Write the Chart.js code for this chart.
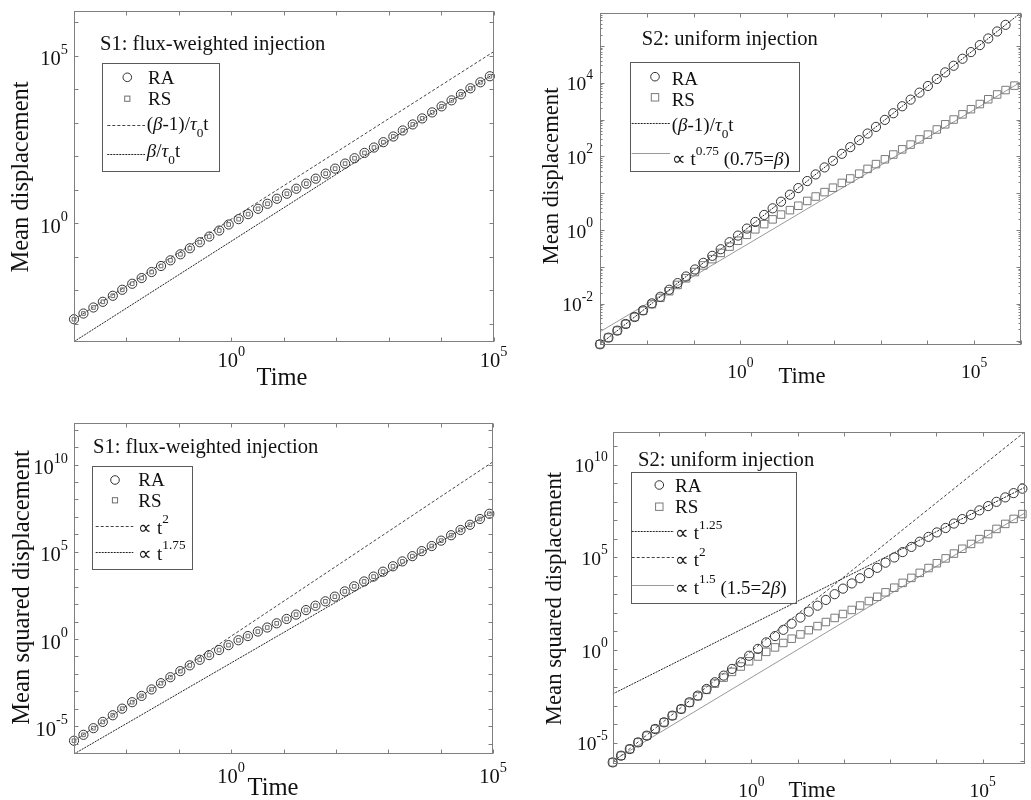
<!DOCTYPE html>
<html>
<head>
<meta charset="utf-8">
<title>Mean displacement vs time</title>
<script src="https://cdn.jsdelivr.net/npm/chart.js"></script>
<style>
  html, body { margin: 0; padding: 0; background: #fff; overflow: hidden; }
  #wrap { position: relative; width: 1031px; height: 800px; }
  #wrap canvas { position: absolute; left: 0; top: 0; }
</style>
</head>
<body>
<div id="wrap">
  <canvas id="p1" width="1031" height="800"></canvas>
  <canvas id="p2" width="1031" height="800"></canvas>
  <canvas id="p3" width="1031" height="800"></canvas>
  <canvas id="p4" width="1031" height="800"></canvas>
</div>
<script>
// log10(time) of the sampled points, shared by all panels
const logTime = [-3.00, -2.82, -2.63, -2.45, -2.26, -2.08, -1.89, -1.71, -1.52, -1.34,
  -1.16, -0.97, -0.79, -0.60, -0.42, -0.23, -0.05, 0.14, 0.32, 0.51,
  0.69, 0.87, 1.06, 1.24, 1.43, 1.61, 1.80, 1.98, 2.17, 2.35,
  2.54, 2.72, 2.90, 3.09, 3.27, 3.46, 3.64, 3.83, 4.01, 4.20,
  4.38, 4.56, 4.75, 4.93, 5.12, 5.30, 5.49, 5.67, 5.86];

// S1 mean displacement (log10)
const p1RaLogY = [-2.87, -2.70, -2.52, -2.35, -2.17, -1.99, -1.81, -1.64, -1.46, -1.28,
  -1.11, -0.93, -0.75, -0.57, -0.40, -0.22, -0.04, 0.12, 0.27, 0.43,
  0.58, 0.73, 0.88, 1.03, 1.18, 1.33, 1.48, 1.63, 1.78, 1.94,
  2.10, 2.26, 2.42, 2.59, 2.77, 2.95, 3.13, 3.31, 3.49, 3.67,
  3.85, 4.03, 4.21, 4.39];
const p1RsLogY = [-2.87, -2.70, -2.52, -2.35, -2.17, -1.99, -1.81, -1.64, -1.46, -1.28,
  -1.11, -0.93, -0.75, -0.57, -0.40, -0.22, -0.04, 0.12, 0.27, 0.43,
  0.58, 0.73, 0.88, 1.03, 1.18, 1.33, 1.48, 1.63, 1.78, 1.94,
  2.10, 2.26, 2.42, 2.59, 2.77, 2.95, 3.13, 3.31, 3.49, 3.67,
  3.85, 4.03, 4.21, 4.39];
const p1GuideLogT = [-3, 5];
const p1DashLogY = [-2.88, 5.12];   // (beta-1)/tau0 t
const p1DotLogY = [-3.54, 4.46];    // beta/tau0 t

// S2 mean displacement (log10)
const p2RaLogY = [-3.10, -2.92, -2.73, -2.55, -2.36, -2.18, -1.99, -1.81, -1.62, -1.44,
  -1.26, -1.07, -0.89, -0.70, -0.52, -0.33, -0.15, 0.04, 0.22, 0.41,
  0.59, 0.77, 0.96, 1.14, 1.33, 1.51, 1.70, 1.88, 2.07, 2.25,
  2.44, 2.62, 2.80, 2.99, 3.17, 3.36, 3.54, 3.73, 3.91, 4.10,
  4.28, 4.46, 4.65, 4.83, 5.02, 5.20, 5.39, 5.57];
const p2RsLogY = [-3.10, -2.92, -2.73, -2.55, -2.36, -2.19, -2.01, -1.84, -1.66, -1.49,
  -1.31, -1.14, -0.96, -0.79, -0.62, -0.45, -0.29, -0.13, 0.02, 0.16,
  0.29, 0.42, 0.54, 0.66, 0.79, 0.91, 1.03, 1.15, 1.28, 1.40,
  1.53, 1.66, 1.79, 1.92, 2.05, 2.19, 2.32, 2.46, 2.59, 2.73,
  2.87, 3.00, 3.14, 3.28, 3.42, 3.55, 3.68, 3.80, 3.92];
const p2GuideLogT = [-3, 6];
const p2DotLogY = [-3.10, 5.90];    // (beta-1)/tau0 t
const p2GrayLogY = [-2.76, 4.02];   // t^0.75

// S1 mean squared displacement (log10)
const p3RaLogY = [-5.83, -5.49, -5.11, -4.75, -4.37, -3.99, -3.62, -3.26, -2.89, -2.53,
  -2.19, -1.84, -1.51, -1.19, -0.92, -0.63, -0.35, -0.07, 0.17, 0.43,
  0.66, 0.90, 1.15, 1.40, 1.66, 1.91, 2.16, 2.43, 2.73, 3.02,
  3.30, 3.58, 3.86, 4.17, 4.45, 4.75, 5.04, 5.33, 5.64, 5.95,
  6.25, 6.55, 6.88, 7.18];
const p3RsLogY = [-5.83, -5.49, -5.11, -4.75, -4.37, -3.99, -3.62, -3.26, -2.89, -2.53,
  -2.19, -1.84, -1.51, -1.19, -0.92, -0.63, -0.35, -0.07, 0.17, 0.43,
  0.66, 0.90, 1.15, 1.40, 1.66, 1.91, 2.16, 2.43, 2.73, 3.02,
  3.30, 3.58, 3.86, 4.17, 4.45, 4.75, 5.04, 5.33, 5.64, 5.95,
  6.25, 6.55, 6.88, 7.18];
const p3GuideLogT = [-3, 5];
const p3DashLogY = [-5.84, 10.16];  // t^2
const p3DotLogY = [-6.59, 7.33];    // t^1.75

// S2 mean squared displacement (log10)
const p4RaLogY = [-6.06, -5.70, -5.34, -4.98, -4.62, -4.26, -3.90, -3.54, -3.18, -2.82,
  -2.46, -2.10, -1.74, -1.38, -1.02, -0.66, -0.31, 0.06, 0.41, 0.75,
  1.09, 1.42, 1.75, 2.07, 2.39, 2.70, 3.01, 3.31, 3.59, 3.87,
  4.15, 4.43, 4.71, 4.99, 5.28, 5.56, 5.84, 6.10, 6.34, 6.58,
  6.82, 7.06, 7.29, 7.53, 7.76, 7.99, 8.23, 8.46, 8.70];
const p4RsLogY = [-6.06, -5.70, -5.34, -4.98, -4.62, -4.26, -3.90, -3.54, -3.19, -2.84,
  -2.49, -2.15, -1.81, -1.49, -1.18, -0.89, -0.61, -0.35, -0.10, 0.14,
  0.38, 0.61, 0.84, 1.07, 1.29, 1.51, 1.73, 1.94, 2.16, 2.40,
  2.64, 2.87, 3.11, 3.36, 3.62, 3.89, 4.16, 4.42, 4.68, 4.94,
  5.20, 5.46, 5.72, 5.98, 6.25, 6.53, 6.80, 7.07, 7.33];
const p4GuideLogT = [-3, 5.91];
const p4DotLogY = [-2.37, 8.77];    // t^1.25
const p4DashLogY = [-6.06, 11.76];  // t^2
const p4GrayLogY = [-5.98, 7.38];   // t^1.5

// tick exponents and labelled exponents
const p1XTicks = [-3, -2, -1, 0, 1, 2, 3, 4, 5];
const p1YTicks = [-3, -2, -1, 0, 1, 2, 3, 4, 5, 6];
const p2XTicks = [-3, -2, -1, 0, 1, 2, 3, 4, 5, 6];
const p2YTicks = [-3, -2, -1, 0, 1, 2, 3, 4, 5];
const p3XTicks = [-3, -2, -1, 0, 1, 2, 3, 4, 5];
const p3YTicks = [-6, -5, -4, -3, -2, -1, 0, 1, 2, 3, 4, 5, 6, 7, 8, 9, 10, 11, 12];
const p4XTicks = [-3, -2, -1, 0, 1, 2, 3, 4, 5];
const p4YTicks = [-6, -5, -4, -3, -2, -1, 0, 1, 2, 3, 4, 5, 6, 7, 8, 9, 10, 11];
const xLabelExp = [0, 5];
const p1YLabels = [0, 5];
const p2YLabels = [-2, 0, 2, 4];
const msdYLabels = [-5, 0, 5, 10];

const SERIF = '"Liberation Serif", "Times New Roman", serif';
const AXIS_COLOR = '#7f7f7f';
const TEXT_COLOR = '#111';

const RA_STYLE = { pointStyle: 'circle', pointRadius: 4.6, pointBorderColor: '#333' };
const RS_SMALL = { pointStyle: 'rect', pointRadius: 2.6, pointBorderColor: '#6e6e6e' };
const RS_BIG = { pointStyle: 'rect', pointRadius: 5.3, pointBorderColor: '#7a7a7a' };
const DASHED = { color: '#444', dash: [3, 2] };
const DOTTED = { color: '#222', dash: [2, 1] };
const GRAYLINE = { color: '#999', dash: [] };

const betaTau = [['(', ''], ['\u03b2', 'i'], ['-1)/', ''], ['\u03c4', 'i'], ['0', 'sub'], ['t', '']];

function pts(lx, ly) {
  return ly.map((v, i) => ({ x: Math.pow(10, lx[i]), y: Math.pow(10, v) }));
}

function markers(label, ly, style) {
  return Object.assign({
    label: label, data: pts(logTime, ly), showLine: false, clip: false,
    pointBackgroundColor: 'rgba(0,0,0,0)', pointBorderWidth: 1, pointHoverRadius: 0
  }, style);
}

function guide(label, lx, ly, style) {
  return {
    label: label, data: pts(lx, ly), showLine: true, pointRadius: 0, pointHoverRadius: 0,
    borderColor: style.color, borderDash: style.dash, borderWidth: 1, fill: false, tension: 0
  };
}

// draws a string made of parts: '' normal, 'i' italic, 'sup', 'sub'
function richText(ctx, x, y, parts, size, align) {
  const fonts = parts.map(p => {
    const small = p[1] === 'sup' || p[1] === 'sub';
    return (p[1] === 'i' ? 'italic ' : '') + (small ? size * 0.7 : size).toFixed(1) + 'px ' + SERIF;
  });
  let total = 0;
  const widths = parts.map((p, i) => {
    ctx.font = fonts[i];
    const w = ctx.measureText(p[0]).width;
    total += w;
    return w;
  });
  let cx = align === 'right' ? x - total : align === 'center' ? x - total / 2 : x;
  ctx.textAlign = 'left';
  ctx.textBaseline = 'alphabetic';
  parts.forEach((p, i) => {
    ctx.font = fonts[i];
    const dy = p[1] === 'sup' ? -size * 0.55 : p[1] === 'sub' ? size * 0.38 : 0;
    ctx.fillText(p[0], cx, y + dy);
    cx += widths[i];
  });
}

function drawLegend(ctx, lg) {
  const [x0, y0, x1, y1] = lg.box;
  ctx.fillStyle = '#fff';
  ctx.fillRect(x0, y0, x1 - x0, y1 - y0);
  ctx.setLineDash([]);
  ctx.lineWidth = 1;
  ctx.strokeStyle = '#5a5a5a';
  ctx.strokeRect(Math.round(x0) + 0.5, Math.round(y0) + 0.5, Math.round(x1 - x0), Math.round(y1 - y0));
  lg.items.forEach(it => {
    ctx.setLineDash([]);
    if (it.kind === 'circle') {
      ctx.strokeStyle = it.color;
      ctx.beginPath();
      ctx.arc(it.mx, it.my, it.r, 0, Math.PI * 2);
      ctx.stroke();
    } else if (it.kind === 'rect') {
      ctx.strokeStyle = it.color;
      ctx.strokeRect(it.mx - it.r, it.my - it.r, it.r * 2, it.r * 2);
    } else {
      const y = Math.round(it.my) + 0.5;
      ctx.strokeStyle = it.style.color;
      ctx.setLineDash(it.style.dash);
      ctx.beginPath();
      ctx.moveTo(it.lx[0], y);
      ctx.lineTo(it.lx[1], y);
      ctx.stroke();
      ctx.setLineDash([]);
    }
    ctx.fillStyle = TEXT_COLOR;
    richText(ctx, it.tx, it.ty, it.parts, 19, 'left');
  });
}

function decor(cfg) {
  return {
    id: 'decor_' + cfg.canvas,
    afterDraw(chart) {
      const ctx = chart.ctx, a = chart.chartArea;
      const xs = chart.scales.x, ys = chart.scales.y;
      const L = Math.round(a.left) + 0.5, R = Math.round(a.right) - 0.5;
      const T = Math.round(a.top) + 0.5, B = Math.round(a.bottom) - 0.5;
      ctx.save();
      ctx.lineWidth = 1;
      ctx.setLineDash([]);
      ctx.strokeStyle = AXIS_COLOR;
      ctx.strokeRect(L, T, R - L, B - T);
      ctx.beginPath();
      cfg.xTicks.forEach(k => {
        const x = Math.round(xs.getPixelForValue(Math.pow(10, k))) + 0.5;
        ctx.moveTo(x, B); ctx.lineTo(x, B - 4);
        ctx.moveTo(x, T); ctx.lineTo(x, T + 4);
      });
      cfg.yTicks.forEach(k => {
        const y = Math.round(ys.getPixelForValue(Math.pow(10, k))) + 0.5;
        ctx.moveTo(L, y); ctx.lineTo(L + 4, y);
        ctx.moveTo(R, y); ctx.lineTo(R - 4, y);
      });
      if (cfg.yMinor) {
        for (let k = Math.floor(cfg.yLim[0]); k < cfg.yLim[1]; k++) {
          for (let m = 2; m < 10; m++) {
            const v = m * Math.pow(10, k), lv = Math.log10(v);
            if (lv <= cfg.yLim[0] || lv >= cfg.yLim[1]) continue;
            const y = Math.round(ys.getPixelForValue(v)) + 0.5;
            ctx.moveTo(L, y); ctx.lineTo(L + 2, y);
            ctx.moveTo(R, y); ctx.lineTo(R - 2, y);
          }
        }
      }
      ctx.stroke();

      ctx.fillStyle = TEXT_COLOR;
      cfg.xLabels.forEach(k => {
        richText(ctx, xs.getPixelForValue(Math.pow(10, k)), cfg.xLabelY,
          [['10', ''], [String(k), 'sup']], cfg.tickSize, 'center');
      });
      cfg.yLabels.forEach(k => {
        richText(ctx, cfg.yLabelRight, ys.getPixelForValue(Math.pow(10, k)) + cfg.yLabelDy,
          [['10', ''], [String(k), 'sup']], cfg.tickSize, 'right');
      });

      // axis titles
      ctx.font = cfg.titleSize + 'px ' + SERIF;
      ctx.textAlign = 'center';
      ctx.textBaseline = 'alphabetic';
      ctx.fillText('Time', cfg.timeAt[0], cfg.timeAt[1]);
      ctx.save();
      ctx.translate(cfg.yTitleAt[0], cfg.yTitleAt[1]);
      ctx.rotate(-Math.PI / 2);
      ctx.textBaseline = 'middle';
      ctx.fillText(cfg.yTitle, 0, 0);
      ctx.restore();

      // panel caption
      ctx.font = '20.6px ' + SERIF;
      ctx.textAlign = 'left';
      ctx.fillText(cfg.caption, cfg.captionAt[0], cfg.captionAt[1]);

      drawLegend(ctx, cfg.legend);
      ctx.restore();
    }
  };
}

const panels = [
  {
    canvas: 'p1', area: { left: 74, top: 11, right: 493.5, bottom: 342.3 },
    xLim: [-3, 5], yLim: [-3.56, 6.34],
    datasets: [
      markers('RA', p1RaLogY, RA_STYLE),
      markers('RS', p1RsLogY, RS_SMALL),
      guide('(\u03b2-1)/\u03c40t', p1GuideLogT, p1DashLogY, DASHED),
      guide('\u03b2/\u03c40t', p1GuideLogT, p1DotLogY, DOTTED)
    ],
    xTicks: p1XTicks, yTicks: p1YTicks, xLabels: xLabelExp, yLabels: p1YLabels,
    tickSize: 20.5, xLabelY: 367, yLabelRight: 68, yLabelDy: 9.5,
    titleSize: 24.5, timeAt: [282, 385], yTitle: 'Mean displacement', yTitleAt: [22, 177],
    caption: 'S1: flux-weighted injection', captionAt: [100, 50],
    legend: {
      box: [101.7, 63.3, 218.3, 171.7],
      items: [
        { kind: 'circle', mx: 127.3, my: 77.3, r: 4.3, color: '#333', tx: 148, ty: 83.5, parts: [['RA', '']] },
        { kind: 'rect', mx: 127.3, my: 98.7, r: 2.6, color: '#6e6e6e', tx: 148, ty: 104.5, parts: [['RS', '']] },
        { kind: 'line', lx: [107.3, 145], my: 125, style: DASHED, tx: 146.7, ty: 129.5, parts: betaTau },
        { kind: 'line', lx: [107.3, 145], my: 154.3, style: DOTTED, tx: 146.7, ty: 157,
          parts: [['\u03b2', 'i'], ['/', ''], ['\u03c4', 'i'], ['0', 'sub'], ['t', '']] }
      ]
    }
  },
  {
    canvas: 'p2', area: { left: 600, top: 12.5, right: 1021, bottom: 345 },
    xLim: [-3, 6], yLim: [-3.12, 5.905], yMinor: true,
    datasets: [
      markers('RA', p2RaLogY, RA_STYLE),
      markers('RS', p2RsLogY, RS_BIG),
      guide('(\u03b2-1)/\u03c40t', p2GuideLogT, p2DotLogY, DOTTED),
      guide('t^0.75', p2GuideLogT, p2GrayLogY, GRAYLINE)
    ],
    xTicks: p2XTicks, yTicks: p2YTicks, xLabels: xLabelExp, yLabels: p2YLabels,
    tickSize: 19.5, xLabelY: 378, yLabelRight: 593, yLabelDy: 7.5,
    titleSize: 22.7, timeAt: [802, 383], yTitle: 'Mean displacement', yTitleAt: [552, 176],
    caption: 'S2: uniform injection', captionAt: [641.7, 44.5],
    legend: {
      box: [630, 61.7, 799.3, 171],
      items: [
        { kind: 'circle', mx: 655, my: 76.7, r: 4.3, color: '#333', tx: 671.7, ty: 85, parts: [['RA', '']] },
        { kind: 'rect', mx: 655, my: 97.3, r: 3.7, color: '#7a7a7a', tx: 671.7, ty: 106, parts: [['RS', '']] },
        { kind: 'line', lx: [631.7, 670], my: 123.3, style: DOTTED, tx: 671.7, ty: 130.5, parts: betaTau },
        { kind: 'line', lx: [631.7, 670], my: 152.7, style: GRAYLINE, tx: 671.7, ty: 165,
          parts: [['\u221d t', ''], ['0.75', 'sup'], [' (0.75=', ''], ['\u03b2', 'i'], [')', '']] }
      ]
    }
  },
  {
    canvas: 'p3', area: { left: 74, top: 422.7, right: 493, bottom: 754 },
    xLim: [-3, 5], yLim: [-6.59, 12.40],
    datasets: [
      markers('RA', p3RaLogY, RA_STYLE),
      markers('RS', p3RsLogY, RS_SMALL),
      guide('t^2', p3GuideLogT, p3DashLogY, DASHED),
      guide('t^1.75', p3GuideLogT, p3DotLogY, DOTTED)
    ],
    xTicks: p3XTicks, yTicks: p3YTicks, xLabels: xLabelExp, yLabels: msdYLabels,
    tickSize: 20.5, xLabelY: 783, yLabelRight: 68, yLabelDy: 9.5,
    titleSize: 24.6, timeAt: [273, 795], yTitle: 'Mean squared displacement', yTitleAt: [22.5, 587.5],
    caption: 'S1: flux-weighted injection', captionAt: [93, 452.7],
    legend: {
      box: [91.7, 466, 191.7, 569.3],
      items: [
        { kind: 'circle', mx: 115, my: 480, r: 4.3, color: '#333', tx: 138.3, ty: 486, parts: [['RA', '']] },
        { kind: 'rect', mx: 115, my: 500.3, r: 2.6, color: '#6e6e6e', tx: 138.3, ty: 507, parts: [['RS', '']] },
        { kind: 'line', lx: [95.7, 133.3], my: 526, style: DASHED, tx: 138.3, ty: 533.5,
          parts: [['\u221d t', ''], ['2', 'sup']] },
        { kind: 'line', lx: [95.7, 133.3], my: 551.5, style: DOTTED, tx: 138.3, ty: 559.5,
          parts: [['\u221d t', ''], ['1.75', 'sup']] }
      ]
    }
  },
  {
    canvas: 'p4', area: { left: 612.7, top: 432.3, right: 1030.6, bottom: 763.5 },
    xLim: [-3, 5.91], yLim: [-6.12, 11.74],
    datasets: [
      markers('RA', p4RaLogY, RA_STYLE),
      markers('RS', p4RsLogY, RS_BIG),
      guide('t^1.25', p4GuideLogT, p4DotLogY, DOTTED),
      guide('t^2', p4GuideLogT, p4DashLogY, DASHED),
      guide('t^1.5', p4GuideLogT, p4GrayLogY, GRAYLINE)
    ],
    xTicks: p4XTicks, yTicks: p4YTicks, xLabels: xLabelExp, yLabels: msdYLabels,
    tickSize: 19.5, xLabelY: 797, yLabelRight: 607.7, yLabelDy: 7.5,
    titleSize: 22.7, timeAt: [812, 797], yTitle: 'Mean squared displacement', yTitleAt: [555, 598.5],
    caption: 'S2: uniform injection', captionAt: [638, 466],
    legend: {
      box: [630.7, 472, 795.7, 602.7],
      items: [
        { kind: 'circle', mx: 659.3, my: 485, r: 4.3, color: '#333', tx: 675, ty: 491.7, parts: [['RA', '']] },
        { kind: 'rect', mx: 659.3, my: 506.7, r: 3.7, color: '#7a7a7a', tx: 675, ty: 513.3, parts: [['RS', '']] },
        { kind: 'line', lx: [631.7, 674], my: 531, style: DOTTED, tx: 675, ty: 539,
          parts: [['\u221d t', ''], ['1.25', 'sup']] },
        { kind: 'line', lx: [631.7, 674], my: 557.3, style: DASHED, tx: 675, ty: 566,
          parts: [['\u221d t', ''], ['2', 'sup']] },
        { kind: 'line', lx: [631.7, 674], my: 585, style: GRAYLINE, tx: 675, ty: 593.5,
          parts: [['\u221d t', ''], ['1.5', 'sup'], [' (1.5=2', ''], ['\u03b2', 'i'], [')', '']] }
      ]
    }
  }
];

panels.forEach(cfg => {
  const el = document.getElementById(cfg.canvas);
  new Chart(el, {
    type: 'scatter',
    data: { datasets: cfg.datasets },
    options: {
      responsive: false,
      animation: false,
      devicePixelRatio: 1,
      events: [],
      layout: {
        padding: {
          left: cfg.area.left, top: cfg.area.top,
          right: el.width - cfg.area.right, bottom: el.height - cfg.area.bottom
        }
      },
      scales: {
        x: { type: 'logarithmic', display: false, bounds: 'data',
             min: Math.pow(10, cfg.xLim[0]), max: Math.pow(10, cfg.xLim[1]) },
        y: { type: 'logarithmic', display: false, bounds: 'data',
             min: Math.pow(10, cfg.yLim[0]), max: Math.pow(10, cfg.yLim[1]) }
      },
      plugins: { legend: { display: false }, tooltip: { enabled: false } }
    },
    plugins: [decor(cfg)]
  });
});
</script>
</body>
</html>
